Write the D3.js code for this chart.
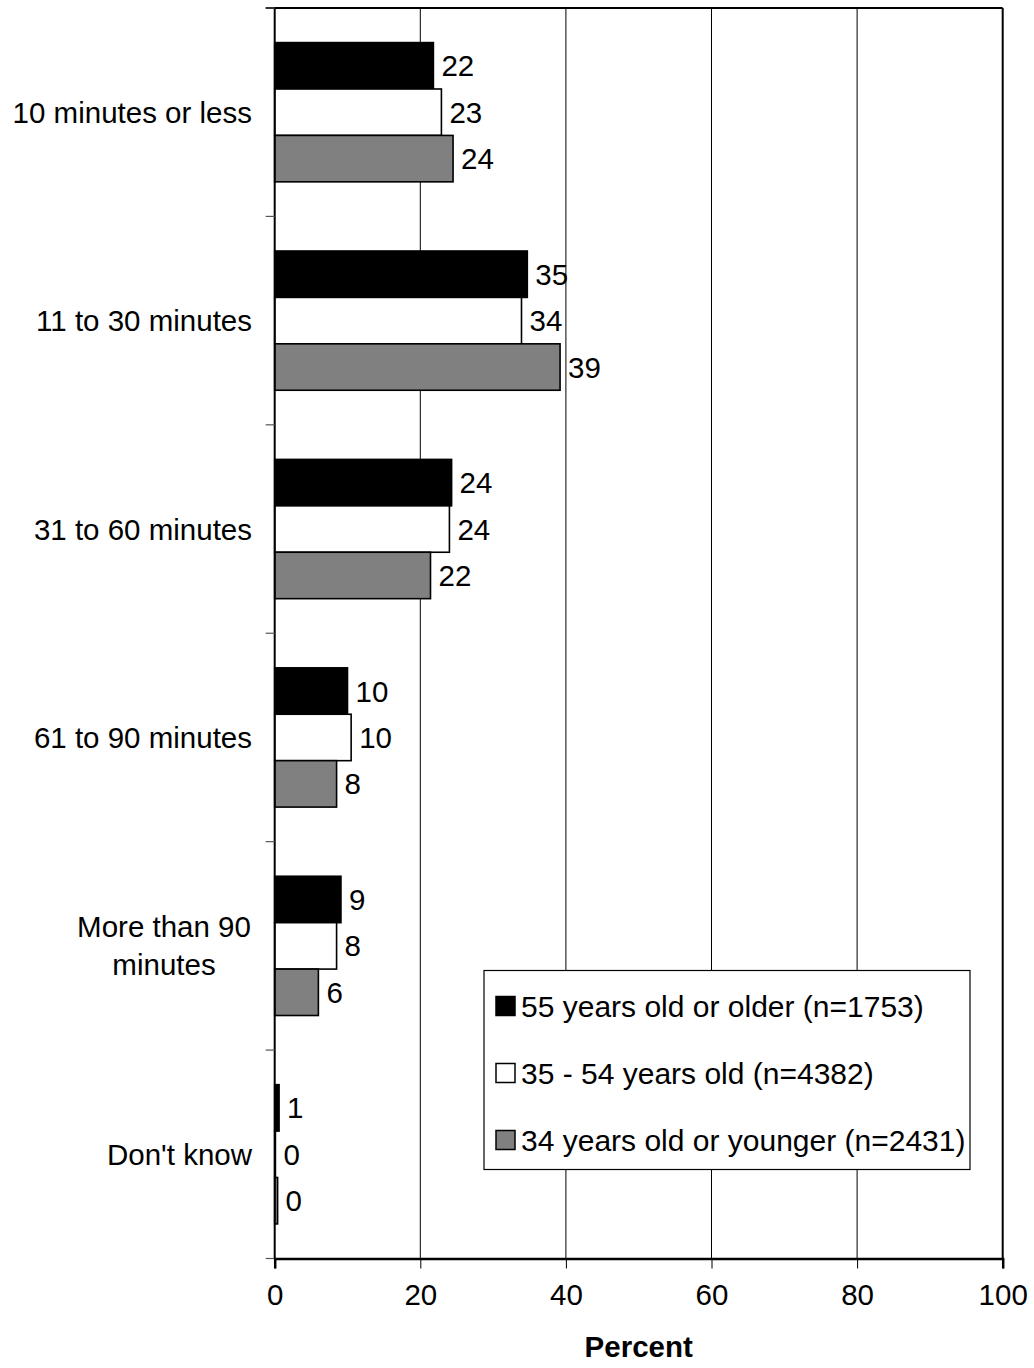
<!DOCTYPE html>
<html><head><meta charset="utf-8">
<script src="https://cdn.jsdelivr.net/npm/d3@7"></script>
<style>
html,body{margin:0;padding:0;background:#fff;}
svg{display:block;font-family:"Liberation Sans",Arial,sans-serif;}
</style></head>
<body>
<script>
const categories = ["10 minutes or less","11 to 30 minutes","31 to 60 minutes","61 to 90 minutes","More than 90 minutes","Don't know"];
const categoryLines = [["10 minutes or less"],["11 to 30 minutes"],["31 to 60 minutes"],["61 to 90 minutes"],["More than 90","minutes"],["Don't know"]];
const seriesNames = ["55 years old or older (n=1753)","35 - 54 years old (n=4382)","34 years old or younger (n=2431)"];
const seriesColors = ["#000000","#ffffff","#808080"];
const older = [21.8, 34.7, 24.3, 10.0, 9.1, 0.6];
const middle = [22.9, 33.9, 24.0, 10.5, 8.5, 0.1];
const younger = [24.5, 39.2, 21.4, 8.5, 6.0, 0.4];
const olderLabels = ["22","35","24","10","9","1"];
const middleLabels = ["23","34","24","10","8","0"];
const youngerLabels = ["24","39","22","8","6","0"];
const xTicks = [0,20,40,60,80,100];
const xTitle = "Percent";

const series = [older, middle, younger];
const seriesLabels = [olderLabels, middleLabels, youngerLabels];

const W = 1034, H = 1368;
const L = 274.7, R = 1002.7, T = 8, B = 1258.5;
const FS = 29.5;
const svg = d3.select("body").append("svg").attr("width", W).attr("height", H);

const x = d3.scaleLinear().domain([0,100]).range([L,R]);
const y = d3.scaleBand().domain(categories).range([T,B]);
const inner = d3.scaleBand().domain([0,1,2]).range([0, y.bandwidth()]).paddingOuter(0.745);

// gridlines
svg.append("g").selectAll("line").data(xTicks.filter(t => t>0 && t<100)).join("line")
  .attr("x1", d=>x(d)).attr("x2", d=>x(d)).attr("y1", T).attr("y2", B)
  .attr("stroke", "#000").attr("stroke-width", 1);

// frame top & right
svg.append("line").attr("x1", L-9).attr("x2", R).attr("y1", T).attr("y2", T).attr("stroke","#000").attr("stroke-width",2);
svg.append("line").attr("x1", R).attr("x2", R).attr("y1", T).attr("y2", B).attr("stroke","#000").attr("stroke-width",2);

// bars
series.forEach((vals, si) => {
  const g = svg.append("g");
  g.selectAll("rect").data(vals).join("rect")
    .attr("x", x(0))
    .attr("y", (d,i) => y(categories[i]) + inner(si))
    .attr("width", d => x(d) - x(0))
    .attr("height", inner.bandwidth())
    .attr("fill", seriesColors[si])
    .attr("stroke", "#000").attr("stroke-width", 1.6);
  g.selectAll("text").data(vals).join("text")
    .attr("x", d => x(d) + 8)
    .attr("y", (d,i) => y(categories[i]) + inner(si) + inner.bandwidth()/2)
    .attr("dy", "0.36em")
    .attr("font-size", FS)
    .attr("fill", "#000")
    .text((d,i) => seriesLabels[si][i]);
});

// y axis
const yAxis = svg.append("g").attr("transform", `translate(${L},0)`);
yAxis.append("line").attr("x1",0).attr("x2",0).attr("y1",T).attr("y2",B).attr("stroke","#000").attr("stroke-width",2);
const yTickPos = categories.map(c => y(c)).concat([B]);
yAxis.selectAll("line.tk").data(yTickPos).join("line").attr("class","tk")
  .attr("x1",-9).attr("x2",0).attr("y1",d=>d).attr("y2",d=>d).attr("stroke","#555").attr("stroke-width",1.2);

// category labels
categories.forEach((c, i) => {
  const lines = categoryLines[i];
  const cy = y(c) + y.bandwidth()/2;
  const lh = 38;
  const t = svg.append("text").attr("font-size", FS).attr("fill","#000");
  if (lines.length === 1) {
    t.attr("text-anchor","end").attr("x", 252).attr("y", cy).attr("dy","0.36em").text(lines[0]);
  } else {
    t.attr("text-anchor","middle");
    lines.forEach((ln, k) => {
      t.append("tspan").attr("x", 164).attr("y", cy + (k - (lines.length-1)/2)*lh).attr("dy","0.36em").text(ln);
    });
  }
});

// x axis
const xAxis = svg.append("g").attr("transform", `translate(0,${B})`)
  .call(d3.axisBottom(x).tickValues(xTicks).tickSize(10).tickPadding(16).tickFormat(d3.format("d")));
xAxis.select(".domain").attr("stroke","#000").attr("stroke-width",2.5);
xAxis.selectAll(".tick line").attr("stroke","#000").attr("stroke-width",1);
xAxis.selectAll(".tick text").attr("font-size",FS).attr("fill","#000").attr("font-family","Liberation Sans, Arial, sans-serif");

svg.append("text").attr("x",(L+R)/2).attr("y",1357).attr("text-anchor","middle")
  .attr("font-size",29.5).attr("font-weight","bold").text(xTitle);

// legend
const lg = svg.append("g");
lg.append("rect").attr("x",484).attr("y",970.5).attr("width",486).attr("height",199)
  .attr("fill","#fff").attr("stroke","#000").attr("stroke-width",1.2);
seriesNames.forEach((n, i) => {
  const cy = 1006 + i*67;
  lg.append("rect").attr("x",496).attr("y",cy-9.5).attr("width",19).attr("height",19)
    .attr("fill",seriesColors[i]).attr("stroke","#000").attr("stroke-width",1.5);
  lg.append("text").attr("x",521).attr("y",cy).attr("dy","0.36em").attr("font-size",30).text(n);
});
</script>
</body></html>
